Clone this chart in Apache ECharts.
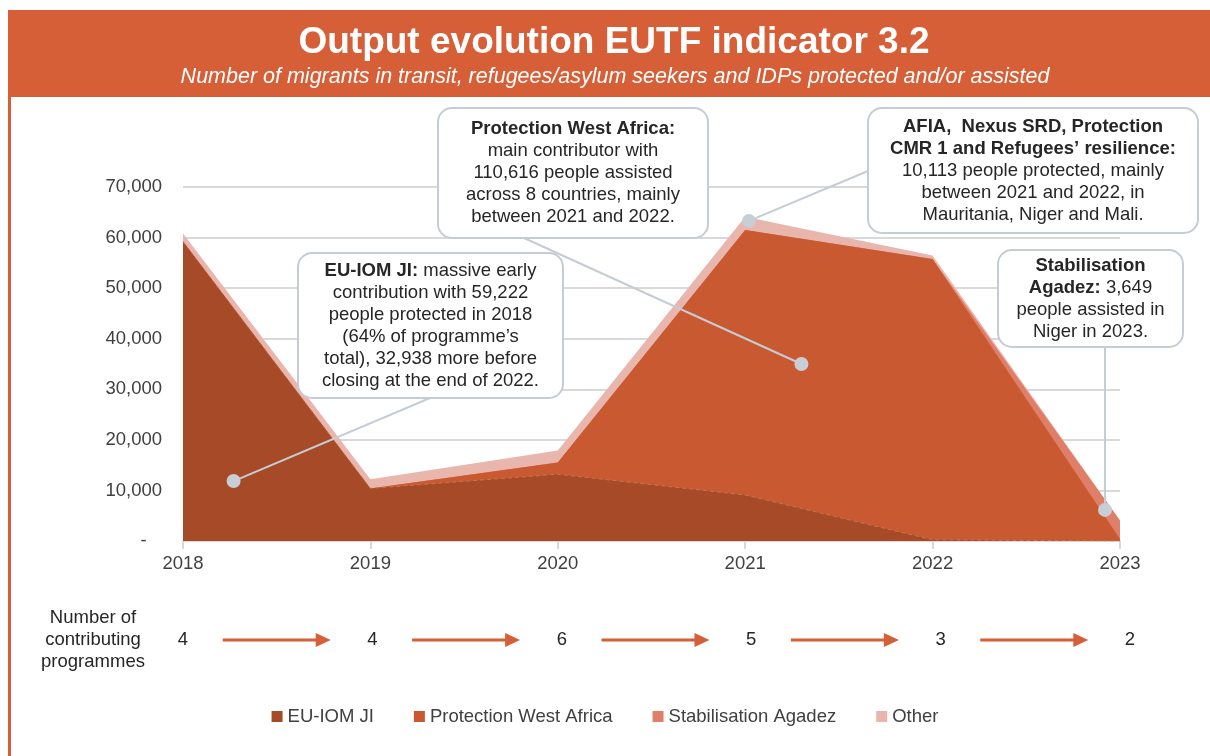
<!DOCTYPE html>
<html><head><meta charset="utf-8">
<script src="https://cdn.jsdelivr.net/npm/echarts@6/dist/echarts.min.js"></script>
<style>html,body{margin:0;padding:0;background:#fff}#c{width:1210px;height:756px}</style>
</head><body><div id="c"></div>
<script>
// ---- data ----
const years = [2018, 2019, 2020, 2021, 2022, 2023];
const euIomJi = [59222, 10400, 13200, 9100, 238, 0];
const protectionWestAfrica = [0, 0, 2300, 52400, 55516, 400];
const stabilisationAgadez = [0, 0, 0, 0, 0, 3649];
const other = [1600, 1800, 2400, 2600, 700, 0];
const contributingProgrammes = [4, 4, 6, 5, 3, 2];
const yTicks = [0, 10000, 20000, 30000, 40000, 50000, 60000, 70000];
const yTickLabels = ['-   ', '10,000', '20,000', '30,000', '40,000', '50,000', '60,000', '70,000'];
const seriesNames = ['EU-IOM JI', 'Protection West Africa', 'Stabilisation Agadez', 'Other'];

// annotation anchor points (data coordinates)
const dotEu = [2018.27, 11850];
const dotPwa = [2021.30, 35000];
const dotAfia = [2021.02, 63300];
const dotSa = [2022.92, 6150];

const FONT = "'Liberation Sans', Arial, sans-serif";
const FS = 18.5;
const colors = ['#A64A28', '#C95930', '#E07F69', '#E9B6AD'];
const ORANGE = '#D65F37';
const GRAY = '#C6CCD4';

// cumulative layers (each drawn as an area down to zero, upper totals behind)
const cum1 = euIomJi.slice();
const cum2 = cum1.map((v, i) => v + protectionWestAfrica[i]);
const cum3 = cum2.map((v, i) => v + stabilisationAgadez[i]);
const cum4 = cum3.map((v, i) => v + other[i]);
const pairs = arr => years.map((y, i) => [y, arr[i]]);

const chart = echarts.init(document.getElementById('c'), null, {renderer: 'canvas'});

function area(name, vals, color, z, extra) {
  return Object.assign({
    type: 'line', name, data: pairs(vals), symbol: 'none', z,
    lineStyle: {width: 0, color}, itemStyle: {color},
    areaStyle: {color, opacity: 1}, emphasis: {disabled: true}, silent: true
  }, extra || {});
}

chart.setOption({
  animation: false,
  grid: {left: 183, right: 90, top: 187, bottom: 215},
  legend: {
    data: seriesNames, top: 702, left: 'center', icon: 'rect', itemWidth: 11, itemHeight: 11, itemGap: 40,
    textStyle: {fontFamily: FONT, fontSize: FS, color: '#404040'}, selectedMode: false
  },
  xAxis: {
    type: 'value', min: years[0], max: years[years.length - 1], interval: 1,
    axisLine: {show: true, lineStyle: {color: '#D9D9D9', width: 2}},
    axisTick: {show: true, length: 8, lineStyle: {color: '#D9D9D9', width: 2}},
    splitLine: {show: false},
    axisLabel: {margin: 13, fontFamily: FONT, fontSize: FS, color: '#404040', formatter: v => String(v)}
  },
  yAxis: {
    type: 'value', min: 0, max: 70000, interval: 10000,
    axisLine: {show: false}, axisTick: {show: false},
    splitLine: {lineStyle: {color: '#D9D9D9', width: 2}},
    axisLabel: {margin: 21, fontFamily: FONT, fontSize: FS, color: '#404040',
      formatter: v => yTickLabels[yTicks.indexOf(v)]}
  },
  series: [
    area(seriesNames[3], cum4, colors[3], 1),
    area(seriesNames[2], cum3, colors[2], 2),
    area(seriesNames[1], cum2, colors[1], 3),
    area(seriesNames[0], cum1, colors[0], 4, {lineStyle: {width: 1, color: '#C27556', type: [4, 3]}})
  ]
});

const P = pt => chart.convertToPixel({xAxisIndex: 0, yAxisIndex: 0}, pt);
const g = [];
// header
g.push({type: 'rect', shape: {x: 8, y: 10, width: 1202, height: 87}, style: {fill: ORANGE}, z: 100});
g.push({type: 'rect', shape: {x: 8, y: 97, width: 3, height: 659}, style: {fill: ORANGE}, z: 100});
g.push({type: 'text', z: 101, style: {text: 'Output evolution EUTF indicator 3.2', x: 614, y: 43,
  align: 'center', verticalAlign: 'middle', textAlign: 'center', textVerticalAlign: 'middle',
  font: 'bold 37px ' + FONT, fill: '#fff'}});
g.push({type: 'text', z: 101, style: {text: 'Number of migrants in transit, refugees/asylum seekers and IDPs protected and/or assisted',
  x: 615, y: 77, align: 'center', verticalAlign: 'middle', textAlign: 'center', textVerticalAlign: 'middle',
  font: 'italic 21.5px ' + FONT, fill: '#fff'}});

// connectors
function line(x1, y1, x2, y2) {
  g.push({type: 'line', z: 110, shape: {x1, y1, x2, y2}, style: {stroke: GRAY, lineWidth: 2}});
}
const pEu = P(dotEu), pPwa = P(dotPwa), pAfia = P(dotAfia), pSa = P(dotSa);
line(pEu[0], pEu[1], 430, 398);
line(pPwa[0], pPwa[1], 524, 238);
line(pAfia[0], pAfia[1], 868, 171);
line(pSa[0], pSa[1], pSa[0], 347);

// boxes
function box(x, y, w, h, text) {
  g.push({type: 'rect', z: 120, shape: {x, y, width: w, height: h, r: 14},
    style: {fill: '#fff', stroke: GRAY, lineWidth: 2}});
  g.push({type: 'text', z: 121, style: {text, x: x + w / 2, y: y + h / 2,
    align: 'center', verticalAlign: 'middle', textAlign: 'center', textVerticalAlign: 'middle',
    font: FS + 'px ' + FONT, fill: '#262626', lineHeight: 22,
    rich: {b: {fontWeight: 'bold', fontFamily: FONT, fontSize: FS, lineHeight: 22, fill: '#262626'},
           n: {fontFamily: FONT, fontSize: FS, lineHeight: 22, fill: '#262626'}}}});
}
box(298, 253, 265, 145,
  '{b|EU-IOM JI:}{n| massive early}\n{n|contribution with 59,222}\n{n|people protected in 2018}\n{n|(64% of programme\u2019s}\n{n|total), 32,938 more before}\n{n|closing at the end of 2022.}');
box(438, 108, 270, 130,
  '{b|Protection West Africa:}\n{n|main contributor with}\n{n|110,616 people assisted}\n{n|across 8 countries, mainly}\n{n|between 2021 and 2022.}');
box(868, 108, 330, 125,
  '{b|AFIA,  Nexus SRD, Protection}\n{b|CMR 1 and Refugees\u2019 resilience:}\n{n|10,113 people protected, mainly}\n{n|between 2021 and 2022, in}\n{n|Mauritania, Niger and Mali.}');
box(998, 250, 185, 97,
  '{b|Stabilisation}\n{b|Agadez:}{n| 3,649}\n{n|people assisted in}\n{n|Niger in 2023.}');

// dots
[pEu, pPwa, pAfia, pSa].forEach(p => g.push({type: 'circle', z: 130, shape: {cx: p[0], cy: p[1], r: 7}, style: {fill: '#C9CED6'}}));

// contributing programmes row
const rowY = 640;
g.push({type: 'text', z: 101, style: {text: 'Number of\ncontributing\nprogrammes', x: 93, y: rowY,
  align: 'center', verticalAlign: 'middle', textAlign: 'center', textVerticalAlign: 'middle',
  font: FS + 'px ' + FONT, fill: '#262626', lineHeight: 22}});
years.forEach((y, i) => {
  const px = P([y, 0])[0] + i * 2;
  g.push({type: 'text', z: 101, style: {text: String(contributingProgrammes[i]), x: px, y: rowY,
    align: 'center', verticalAlign: 'middle', textAlign: 'center', textVerticalAlign: 'middle',
    font: FS + 'px ' + FONT, fill: '#262626'}});
  if (i < years.length - 1) {
    const mid = (P([y, 0])[0] + P([years[i + 1], 0])[0]) / 2 + i * 2;
    const x1 = mid - 54, x2 = mid + 54;
    g.push({type: 'line', z: 101, shape: {x1, y1: rowY, x2: x2 - 8, y2: rowY}, style: {stroke: ORANGE, lineWidth: 3}});
    g.push({type: 'polygon', z: 101, shape: {points: [[x2 - 15, rowY - 7], [x2, rowY], [x2 - 15, rowY + 7]]}, style: {fill: ORANGE}});
  }
});

chart.setOption({graphic: {elements: g}});
</script></body></html>
